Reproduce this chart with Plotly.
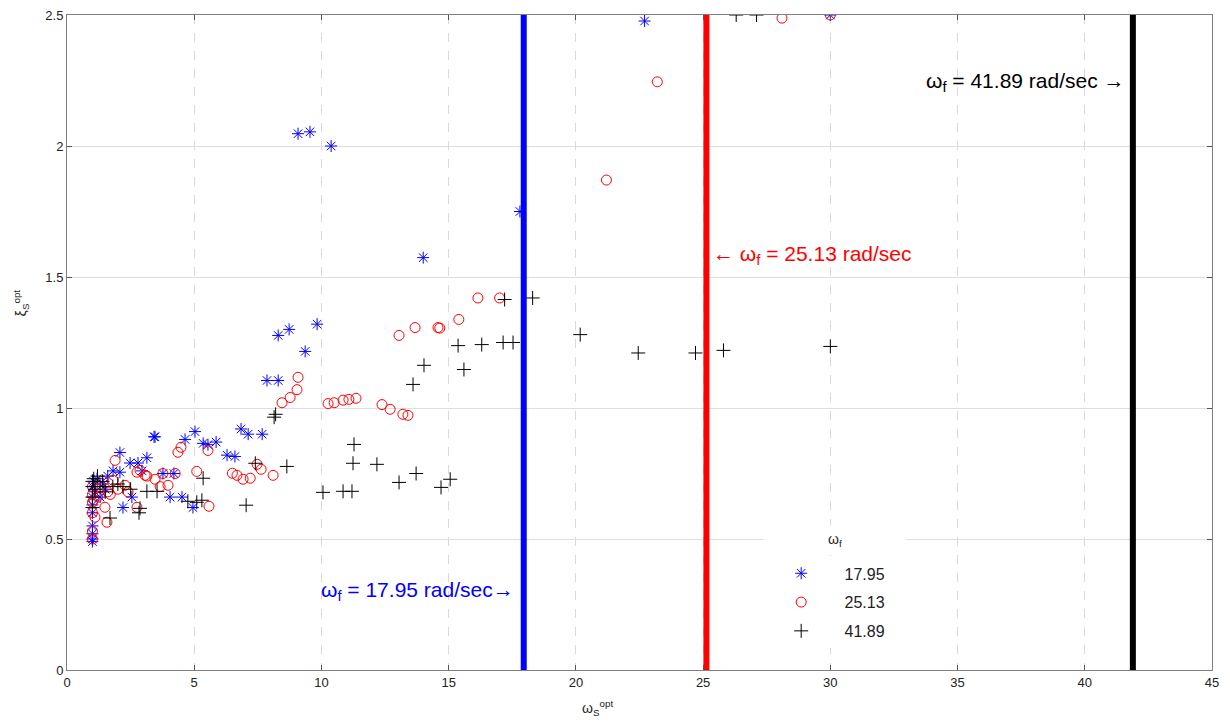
import plotly.graph_objects as go

# --- data ---
omega_f_labels = ["17.95", "25.13", "41.89"]
omega_f_values = [17.95, 25.13, 41.89]

x_1795 = [1.0, 1.0, 1.0, 1.0, 1.0, 1.0, 1.0, 1.0, 1.05, 1.1, 1.18, 1.3, 1.42, 1.5, 1.6, 1.81, 2.08, 2.08,
          2.2, 2.48, 2.55, 2.79, 2.95, 3.14, 3.42, 3.46, 3.77, 4.05, 4.2, 4.52, 4.64, 4.95, 5.03, 5.35,
          5.54, 5.86, 6.29, 6.6, 6.84, 7.12, 7.67, 7.86, 8.3, 8.3, 8.73, 9.08, 9.36, 9.55, 9.83, 10.38,
          14.0, 17.8, 22.7, 30.0]
y_1795 = [0.49, 0.5, 0.52, 0.55, 0.6, 0.63, 0.66, 0.7, 0.72, 0.68, 0.73, 0.66, 0.71, 0.69, 0.74, 0.76, 0.83, 0.755,
          0.62, 0.79, 0.66, 0.79, 0.76, 0.81, 0.89, 0.89, 0.75, 0.66, 0.75, 0.66, 0.88, 0.62, 0.91, 0.865,
          0.86, 0.87, 0.82, 0.815, 0.92, 0.90, 0.90, 1.105, 1.105, 1.277, 1.30, 2.047, 1.216, 2.054, 1.32, 2.0,
          1.574, 1.75, 2.477, 2.5]

x_2513 = [1.0, 1.0, 1.0, 1.0, 1.0, 1.0, 1.05, 1.1, 1.2, 1.3, 1.4, 1.49, 1.57, 1.6, 1.7, 1.81, 1.89, 2.0,
          2.28, 2.4, 2.75, 2.75, 2.87, 3.07, 3.14, 3.46, 3.66, 3.77, 3.97, 4.25, 4.36, 4.48, 5.1, 5.54,
          5.58, 6.5, 6.68, 6.92, 7.2, 7.47, 7.63, 8.1, 8.45, 8.77, 9.04, 9.08, 10.26, 10.5, 10.85, 11.08,
          11.36, 12.38, 12.7, 13.05, 13.2, 13.4, 13.68, 14.58, 14.65, 15.4, 16.15, 17.0, 21.2, 23.2,
          28.1, 30.0]
y_2513 = [0.5, 0.53, 0.6, 0.64, 0.67, 0.7, 0.65, 0.583, 0.66, 0.7, 0.72, 0.621, 0.564, 0.68, 0.67, 0.724, 0.8, 0.69,
          0.705, 0.68, 0.755, 0.621, 0.762, 0.743, 0.74, 0.728, 0.7, 0.75, 0.705, 0.75, 0.831, 0.85, 0.758, 0.838,
          0.625, 0.751, 0.743, 0.728, 0.732, 0.785, 0.766, 0.743, 1.02, 1.04, 1.07, 1.117, 1.017, 1.02, 1.03, 1.033,
          1.037, 1.013, 0.995, 1.277, 0.976, 0.972, 1.307, 1.307, 1.305, 1.338, 1.42, 1.42, 1.87, 2.245,
          2.488, 2.5]

x_4189 = [1.0, 1.0, 1.0, 1.0, 1.05, 1.1, 1.2, 1.3, 1.4, 1.5, 1.69, 1.8, 2.0, 2.2, 2.5, 2.83, 2.87, 3.14, 3.54,
          4.75, 5.1, 5.3, 5.35, 7.04, 7.4, 8.14, 8.2, 8.64, 10.06, 10.85, 11.2, 11.24, 11.28, 12.18, 13.05,
          13.6, 13.72, 14.03, 14.7, 15.06, 15.37, 15.6, 16.3, 17.14, 17.2, 17.53, 18.3, 20.17, 22.45, 24.7,
          25.8, 26.3, 27.1, 30.0]
y_4189 = [0.62, 0.66, 0.7, 0.72, 0.73, 0.69, 0.74, 0.7, 0.72, 0.68, 0.58, 0.7, 0.71, 0.7, 0.69, 0.6, 0.617, 0.682, 0.682,
          0.644, 0.64, 0.648, 0.732, 0.629, 0.789, 0.965, 0.976, 0.777, 0.678, 0.682, 0.682, 0.789, 0.861, 0.785, 0.716,
          1.09, 0.75, 1.163, 0.697, 0.728, 1.238, 1.147, 1.242, 1.25, 1.414, 1.25, 1.42, 1.28, 1.21, 1.21,
          1.22, 2.5, 2.5, 1.235]

x_ticks = [0, 5, 10, 15, 20, 25, 30, 35, 40, 45]
y_ticks = [0, 0.5, 1, 1.5, 2, 2.5]
y_tick_labels = ["0", "0.5", "1", "1.5", "2", "2.5"]

FONT = "Arial, Liberation Sans, sans-serif"
PAD = "\u00a0" * 3

fig = go.Figure()

series = [
    (x_1795, y_1795, omega_f_labels[0], "asterisk-open", "#0000ff", 10),
    (x_2513, y_2513, omega_f_labels[1], "circle-open", "#ff0000", 10),
    (x_4189, y_4189, omega_f_labels[2], "cross-thin-open", "#000000", 10),
]
for i, (xs, ys, name, sym, col, sz) in enumerate(series):
    fig.add_trace(go.Scatter(
        x=xs, y=ys, mode="markers", name=PAD + name, legendgroup=f"g{i}",
        marker=dict(symbol=sym, size=sz, color=col, line=dict(color=col, width=1)),
    ))

line_colors = ["#0000ff", "#ff0000", "#000000"]
for v, c in zip(omega_f_values, line_colors):
    fig.add_trace(go.Scatter(x=[v, v], y=[0, 2.5], mode="lines", showlegend=False,
                             line=dict(color=c, width=6), hoverinfo="skip"))

annots = [
    dict(x=17.65, y=0.30, text="ω<sub>f</sub> = 17.95 rad/sec→", xanchor="right", color="#0000ff"),
    dict(x=25.3, y=1.585, text="← ω<sub>f</sub> = 25.13 rad/sec", xanchor="left", color="#ff0000"),
    dict(x=41.65, y=2.245, text="ω<sub>f</sub> = 41.89 rad/sec →", xanchor="right", color="#000000"),
]
for a in annots:
    fig.add_annotation(x=a["x"], y=a["y"], xref="x", yref="y", text=a["text"], showarrow=False,
                       xanchor=a["xanchor"], yanchor="middle",
                       font=dict(family=FONT, size=21, color=a["color"]))

# legend title (as a white box, like the reference legend background)
fig.add_annotation(x=0.6707, y=0.198, xref="paper", yref="paper", text="ω<sub>f</sub>",
                   showarrow=False, xanchor="center", yanchor="middle", width=140, height=26,
                   bgcolor="white", font=dict(family=FONT, size=14, color="#222222"))

# axis titles
fig.add_annotation(x=0.4635, y=-0.058, xref="paper", yref="paper", text="ω<sub>S</sub><sup>opt</sup>",
                   showarrow=False, xanchor="center", yanchor="middle",
                   font=dict(family=FONT, size=14, color="#222222"))
fig.add_annotation(x=-0.04, y=0.56, xref="paper", yref="paper", text="ξ<sub>S</sub><sup>opt</sup>",
                   showarrow=False, textangle=-90, xanchor="center", yanchor="middle",
                   font=dict(family=FONT, size=14, color="#222222"))

fig.update_layout(
    width=1230, height=723,
    margin=dict(l=67, r=18, t=8, b=53),
    paper_bgcolor="white", plot_bgcolor="white",
    font=dict(family=FONT, size=13, color="#222222"),
    showlegend=True,
    legend=dict(
        x=0.615, y=0.1735, xanchor="left", yanchor="top",
        bgcolor="white", borderwidth=0, itemwidth=50,
        font=dict(family=FONT, size=16, color="#222222"),
        tracegroupgap=5,
    ),
    xaxis=dict(range=[0, 45], tickvals=x_ticks, ticks="inside", ticklen=5, tickcolor="#555555",
               showline=True, linecolor="#808080", mirror="ticks", showgrid=True,
               gridcolor="#d9d9d9", griddash="dash", zeroline=False,
               tickfont=dict(family=FONT, size=13, color="#222222")),
    yaxis=dict(range=[0, 2.5], tickvals=y_ticks, ticktext=y_tick_labels, ticks="inside", ticklen=5,
               tickcolor="#555555", showline=True, linecolor="#808080", mirror="ticks", showgrid=True,
               gridcolor="#dedede", zeroline=False,
               tickfont=dict(family=FONT, size=13, color="#222222")),
)

fig.write_html("out.html")
